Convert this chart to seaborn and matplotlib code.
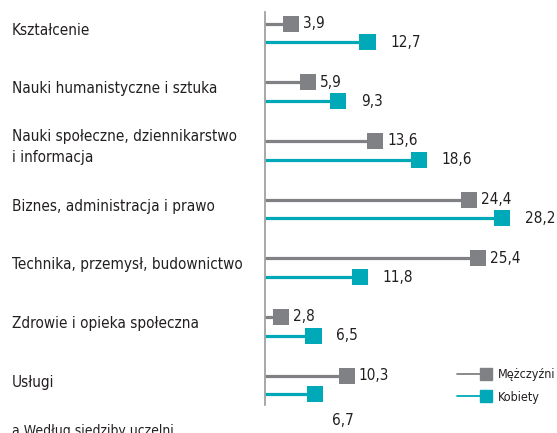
import numpy as np
import pandas as pd
import seaborn as sns
import matplotlib
matplotlib.use('Agg')
import matplotlib.pyplot as plt
from matplotlib.lines import Line2D
from matplotlib.legend_handler import HandlerBase

categories = ['Kształcenie', 'Nauki humanistyczne i sztuka',
              'Nauki społeczne, dziennikarstwo\ni informacja',
              'Biznes, administracja i prawo', 'Technika, przemysł, budownictwo',
              'Zdrowie i opieka społeczna', 'Usługi']
men = [3.9, 5.9, 13.6, 24.4, 25.4, 2.8, 10.3]
women = [12.7, 9.3, 18.6, 28.2, 11.8, 6.5, 6.7]
series = ['Mężczyźni', 'Kobiety']

GRAY = '#808184'
TEAL = '#00a9b8'
TXT = '#231f20'

sns.set_style('white')
plt.rcParams['font.family'] = ['DejaVu Sans']
plt.rcParams['font.stretch'] = 'condensed'

n = len(categories)
pos = np.arange(n)
off = 0.16
df = pd.DataFrame({
    'value': men + women,
    'pos': list(pos - off) + list(pos + off),
    'sex': [series[0]] * n + [series[1]] * n,
})

W, H = 557, 433
fig = plt.figure(figsize=(W / 100, H / 100), dpi=100)
x0 = 265
ax = fig.add_axes([x0 / W, (H - 405) / H, 1 - x0 / W, (405 - 12) / H])
px_per_unit = 8.7
zero_px = 257
ax.set_xlim((x0 - zero_px) / px_per_unit, (W - zero_px) / px_per_unit)
spacing = (385 - 33) / 6
ax.set_ylim((405 - 33) / spacing, -(33 - 12) / spacing)

palette = {series[0]: GRAY, series[1]: TEAL}
xmin = ax.get_xlim()[0]
for s, g in df.groupby('sex'):
    ax.hlines(g['pos'], xmin, g['value'], colors=palette[s], lw=2.3, zorder=2)
sns.scatterplot(data=df, x='value', y='pos', hue='sex', palette=palette,
                marker='s', s=135, linewidth=0, legend=False, ax=ax, zorder=3)

# value labels
for i in range(n):
    ax.annotate(f'{men[i]:.1f}'.replace('.', ','), (men[i], pos[i] - off),
                xytext=(8.5, 0), textcoords='offset points', ha='left', va='center',
                fontsize=11, color=TXT, annotation_clip=False)
    if i == n - 1:
        xyt = (12, -19)
    else:
        xyt = (16.5, 0)
    ax.annotate(f'{women[i]:.1f}'.replace('.', ','), (women[i], pos[i] + off),
                xytext=xyt, textcoords='offset points', ha='left', va='center',
                fontsize=11, color=TXT, annotation_clip=False)

# category labels
trans = matplotlib.transforms.blended_transform_factory(fig.transFigure, ax.transData)
for i, c in enumerate(categories):
    ax.text(12 / W, pos[i] - 0.05, c, transform=trans, ha='left', va='center',
            fontsize=11, color=TXT, linespacing=1.5)

fig.text(12 / W, (H - 424) / H, 'a Według siedziby uczelni', ha='left', va='top',
         fontsize=10, color=TXT)

sns.despine(ax=ax, left=False, bottom=True)
ax.spines['left'].set_color('#9a9a9a')
ax.spines['left'].set_linewidth(1.2)
ax.set_xticks([])
ax.set_yticks([])
ax.set_xlabel('')
ax.set_ylabel('')
ax.patch.set_alpha(0)


class EndMarker(HandlerBase):
    def create_artists(self, legend, orig, xdescent, ydescent, width, height, fontsize, trans):
        y = height / 2 - ydescent
        line = Line2D([-xdescent, width - xdescent], [y, y], color=orig.get_color(), lw=1.3)
        mk = Line2D([width - xdescent - 4], [y], marker='s', markersize=8.5,
                    color=orig.get_color(), linestyle='none')
        line.set_transform(trans)
        mk.set_transform(trans)
        return [line, mk]


handles = [Line2D([], [], color=GRAY), Line2D([], [], color=TEAL)]
leg = ax.legend(handles, series, loc='center left',
                bbox_to_anchor=(457 / W, (H - 386) / H), bbox_transform=fig.transFigure,
                frameon=False, fontsize=9, handlelength=2.8, handletextpad=0.5,
                labelspacing=0.75, borderpad=0, borderaxespad=0,
                handler_map={Line2D: EndMarker()})
for t in leg.get_texts():
    t.set_color(TXT)

fig.savefig('out.png', dpi=100)
